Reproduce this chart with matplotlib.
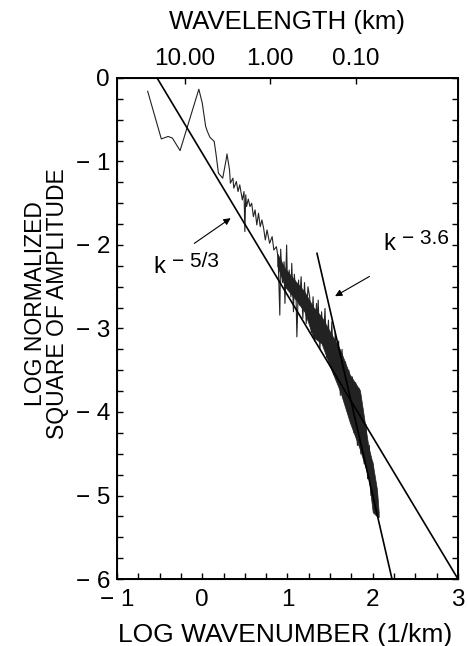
import numpy as np
import matplotlib
matplotlib.use('Agg')
import matplotlib.pyplot as plt

plt.rcParams['font.family'] = ['Liberation Sans', 'DejaVu Sans']

# spectrum trace (log wavenumber, log normalized square of amplitude)
spec_x = [-0.64, -0.48, -0.40, -0.35, -0.26, -0.04, 0.00, 0.04, 0.06, 0.09, 0.14, 0.16,
          0.19, 0.24, 0.28, 0.29, 0.32, 0.33, 0.36, 0.37, 0.40, 0.42, 0.44, 0.47, 0.49,
          0.50, 0.51, 0.52, 0.54, 0.56, 0.58, 0.60, 0.62, 0.64, 0.66, 0.68, 0.70, 0.72,
          0.74, 0.76, 0.79, 0.82, 0.84, 0.87, 0.89,
          0.91, 0.92, 0.94, 0.96, 0.97, 0.99, 1.00, 1.02, 1.04, 1.05, 1.07, 1.08, 1.10,
          1.11, 1.13, 1.14, 1.16, 1.18, 1.20, 1.22, 1.24, 1.26, 1.28, 1.30, 1.32, 1.34,
          1.35, 1.36, 1.38, 1.40, 1.42, 1.44, 1.46, 1.48, 1.50, 1.52, 1.54, 1.56, 1.58,
          1.60, 1.62, 1.64, 1.66, 1.68, 1.70, 1.72, 1.74, 1.76, 1.78, 1.80, 1.82, 1.84,
          1.86, 1.88, 1.90, 1.92, 1.94, 1.96, 1.98, 2.00, 2.02, 2.04, 2.06]
spec_y = [-0.16, -0.73, -0.70, -0.72, -0.87, -0.135, -0.30, -0.58, -0.64, -0.71, -0.76, -0.90,
          -1.14, -1.20, -0.98, -0.91, -1.10, -1.26, -1.20, -1.32, -1.24, -1.36, -1.28, -1.46, -1.36,
          -1.84, -1.40, -1.54, -1.45, -1.54, -1.50, -1.66, -1.58, -1.76, -1.62, -1.78, -1.70, -1.80,
          -1.94, -1.82, -1.98, -1.90, -2.06, -2.02, -2.15,
          -2.84, -2.05, -2.45, -2.20, -2.70, -2.00, -2.50, -2.30, -2.62, -2.22, -2.80, -2.35, -2.60,
          -3.10, -2.42, -2.72, -2.38, -2.88, -2.45, -2.94, -2.50, -2.62, -3.05, -2.62, -3.15, -2.70,
          -2.95, -2.66, -3.25, -2.80, -3.20, -2.76, -3.35, -2.90, -3.45, -2.92, -3.55, -3.05, -3.62,
          -3.15, -3.80, -3.25, -3.85, -3.40, -3.98, -3.50, -4.12, -3.58, -4.25, -3.65, -4.40, -3.72,
          -4.50, -3.95, -4.62, -4.15, -4.80, -4.40, -5.00, -4.60, -5.18, -4.90, -5.26]

# dense (dark) part of the spectrum: upper and lower edges
band_x = [0.88, 0.97, 1.10, 1.20, 1.30, 1.40, 1.50, 1.62, 1.73, 1.85, 1.95, 2.00, 2.05, 2.07]
band_hi = [-2.10, -2.28, -2.44, -2.56, -2.74, -2.86, -3.04, -3.26, -3.55, -3.74, -4.42, -4.62, -4.93, -5.20]
band_lo = [-2.25, -2.50, -2.66, -2.80, -3.10, -3.18, -3.46, -3.76, -4.12, -4.45, -4.78, -5.20, -5.25, -5.26]

# power law reference lines (end points)
line53_x = [-0.53, 3.0]
line53_y = [0.0, -6.0]
line36_x = [1.346, 2.226]
line36_y = [-2.10, -6.0]

# top axis: wavelength in km
wl_km = [10.0, 1.0, 0.1]
wl_labels = ['10.00', '1.00', '0.10']

x_ticks = [-1, 0, 1, 2, 3]
x_labels = ['\u2212 1', '0', '1', '2', '3']
y_ticks = [0, -1, -2, -3, -4, -5, -6]
y_labels = ['0', '\u2212 1', '\u2212 2', '\u2212 3', '\u2212 4', '\u2212 5', '\u2212 6']

fig = plt.figure(figsize=(4.68, 6.46), dpi=100)
ax = fig.add_axes([0.25, 0.1037, 0.7286, 0.7756])

ax.fill_between(band_x, band_lo, band_hi, color='#222222', lw=0.5)
ax.plot(spec_x, spec_y, color='#222222', lw=0.8)
ax.plot(line53_x, line53_y, color='black', lw=1.2)
ax.plot(line36_x, line36_y, color='black', lw=1.2)

# labels "k" with raised exponent, and arrows
ax.text(-0.578, -2.335, 'k', fontsize=17, ha='left', va='baseline')
ax.annotate('\u2212 5/3', xy=(-0.578, -2.335), xytext=(13.5, 4.5), textcoords='offset points',
            fontsize=15, ha='left', va='baseline')
ax.annotate('', xy=(0.36, -1.66), xytext=(-0.12, -2.0),
            arrowprops=dict(arrowstyle='-|>', lw=0.8, color='black', mutation_scale=10))
ax.text(2.12, -2.06, 'k', fontsize=17, ha='left', va='baseline')
ax.annotate('\u2212 3.6', xy=(2.12, -2.06), xytext=(13.5, 4.5), textcoords='offset points',
            fontsize=15, ha='left', va='baseline')
ax.annotate('', xy=(1.53, -2.63), xytext=(1.99, -2.36),
            arrowprops=dict(arrowstyle='-|>', lw=0.8, color='black', mutation_scale=10))

ax.set_xlim(-1, 3)
ax.set_ylim(-6, 0)
ax.set_xticks(x_ticks)
ax.set_xticklabels(x_labels)
ax.set_yticks(y_ticks)
ax.set_yticklabels(y_labels)
ax.set_xticks(np.arange(-1, 3.01, 0.25), minor=True)
ax.set_yticks(np.arange(-6, 0.01, 0.25), minor=True)
ax.tick_params(which='both', direction='in', length=4.5, width=1.0,
               right=True, top=False, labelsize=17.5)
ax.tick_params(axis='x', pad=7)
ax.tick_params(axis='y', pad=5)
for s in ax.spines.values():
    s.set_linewidth(1.4)

# wavelength axis on top, k = 2 pi / lambda
ax2 = ax.twiny()
ax2.set_xlim(-1, 3)
ax2.set_xticks(np.log10(2 * np.pi / np.array(wl_km)))
ax2.set_xticklabels(wl_labels)
ax2.tick_params(direction='in', length=4.5, width=1.0, labelsize=17.5, pad=6)

fig.text(0.613, 0.966, 'WAVELENGTH (km)', fontsize=18.5, ha='center', va='center')
fig.text(0.609, 0.017, 'LOG WAVENUMBER (1/km)', fontsize=19, ha='center', va='center')
fig.text(0.100, 0.53, 'LOG NORMALIZED\nSQUARE OF AMPLITUDE', fontsize=16.5,
         rotation=90, ha='center', va='center', multialignment='center', linespacing=0.95)

plt.savefig('out.png', dpi=100)
